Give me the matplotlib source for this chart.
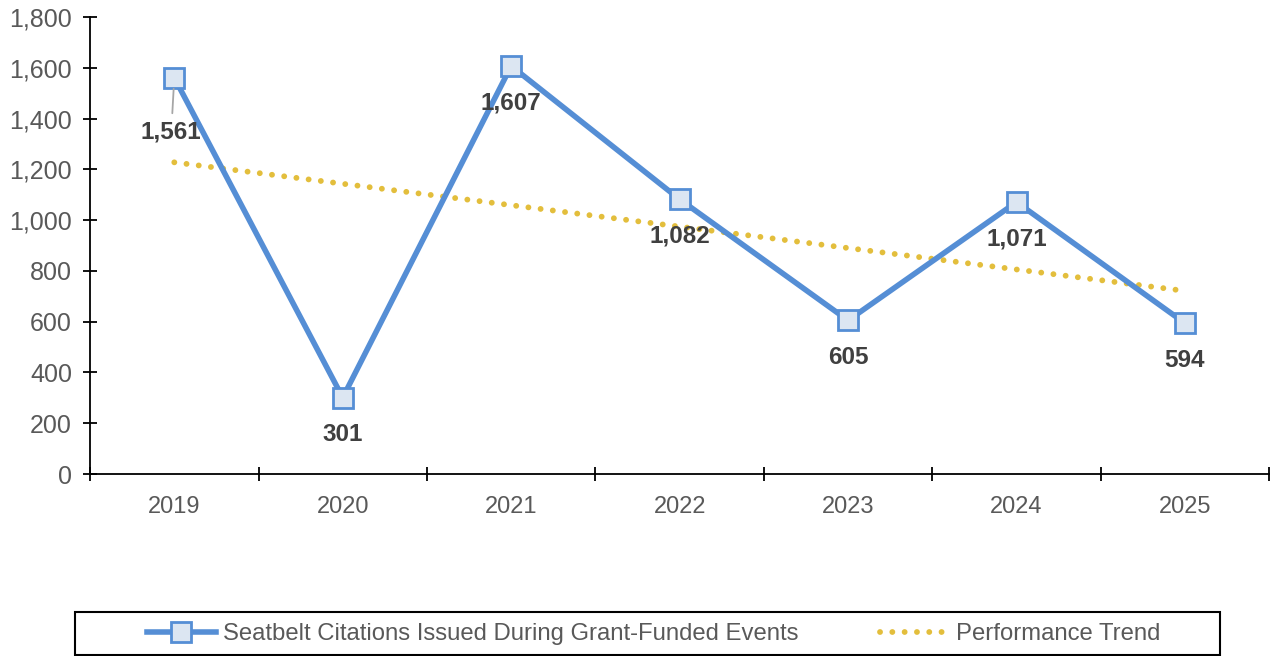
import numpy as np
import matplotlib.pyplot as plt
from matplotlib.patches import Rectangle
from matplotlib.ticker import FuncFormatter, FixedLocator

plt.rcParams["font.family"] = ["Liberation Sans", "DejaVu Sans"]

years = ["2019", "2020", "2021", "2022", "2023", "2024", "2025"]
citations = [1561, 301, 1607, 1082, 605, 1071, 594]
series_name = "Seatbelt Citations Issued During Grant-Funded Events"
trend_name = "Performance Trend"

blue = "#558ED5"
fill = "#DCE6F2"
gold = "#E3BE3C"
grey_text = "#595959"
label_text = "#404040"

x = np.arange(len(years))
# least squares trend through the yearly counts
slope, intercept = np.polyfit(x, citations, 1)
trend = slope * x + intercept

fig = plt.figure(figsize=(12.72, 6.56), dpi=100)
ax = fig.add_axes([0.0708, 0.2774, 0.927, 0.6967])

ax.plot(x, trend, color=gold, lw=4.2, ls=(0, (0.01, 2.1)), dash_capstyle="round",
        label=trend_name, zorder=2)
ax.plot(x, citations, color=blue, lw=4, marker="s", ms=14, mfc=fill, mec=blue,
        mew=2, label=series_name, zorder=3)

for i, v in enumerate(citations):
    if i == 0:
        # first label sits further down, tied back to its point
        ax.annotate(f"{v:,}", xy=(i, v), xytext=(-3, -54), textcoords="offset pixels",
                    ha="center", va="center", fontsize=17.5, fontweight="bold",
                    color=label_text, zorder=4,
                    arrowprops=dict(arrowstyle="-", color="#A6A6A6", lw=1.3,
                                    shrinkA=3, shrinkB=8))
    else:
        ax.annotate(f"{v:,}", xy=(i, v), xytext=(0, -37), textcoords="offset pixels",
                    ha="center", va="center", fontsize=17.5, fontweight="bold",
                    color=label_text, zorder=4)

ax.set_xlim(-0.5, len(years) - 0.5)
ax.set_ylim(0, 1800)
ax.set_yticks(np.arange(0, 1801, 200))
ax.yaxis.set_major_formatter(FuncFormatter(lambda v, p: f"{int(v):,}"))

# category boundaries carry the tick marks, labels sit at the centres
ax.xaxis.set_major_locator(FixedLocator(np.arange(-0.5, len(years), 1.0)))
ax.xaxis.set_minor_locator(FixedLocator(x))
ax.set_xticklabels([])
ax.set_xticklabels(years, minor=True)
ax.tick_params(axis="x", which="major", direction="inout", length=10, width=1.3,
               color="black")
ax.tick_params(axis="x", which="minor", length=0, pad=16, labelsize=17,
               labelcolor=grey_text)
ax.tick_params(axis="y", direction="inout", length=10, width=1.3, pad=8,
               labelsize=18, labelcolor=grey_text)

for side in ["top", "right"]:
    ax.spines[side].set_visible(False)
for side in ["left", "bottom"]:
    ax.spines[side].set_linewidth(1.3)
    ax.spines[side].set_color("black")

fig.patches.append(Rectangle((75 / 1272, 1 - 655 / 656), 1145 / 1272, 43 / 656,
                             transform=fig.transFigure, fill=False,
                             edgecolor="black", lw=1.5))
handles, labels = ax.get_legend_handles_labels()
fig.legend(handles[::-1], labels[::-1], loc="center", ncol=2, frameon=False,
           bbox_to_anchor=(0.514, 1 - 634 / 656), fontsize=17.2, labelcolor=grey_text,
           handlelength=2.9, handletextpad=0.3, columnspacing=3.4)

fig.savefig("out.png", dpi=100)
